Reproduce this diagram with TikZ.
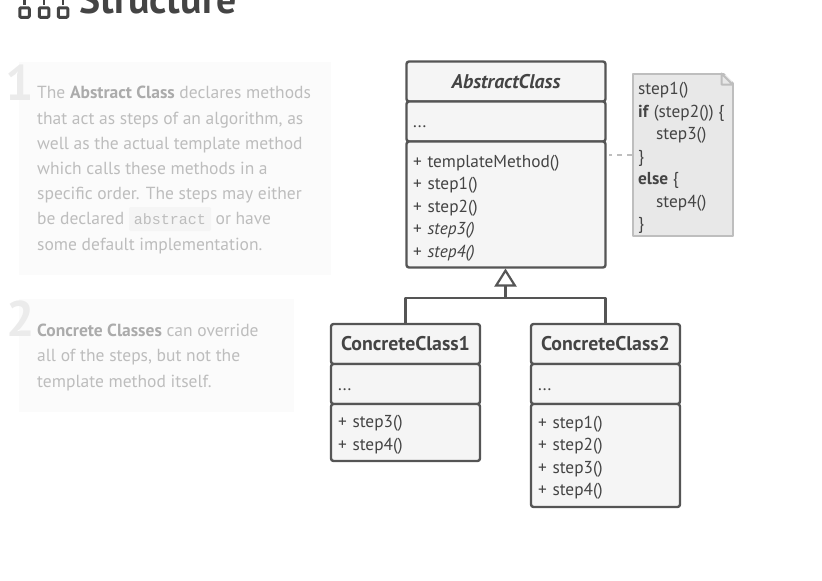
\documentclass[tikz,border=0pt]{standalone}
\usepackage{fontspec}
\setmainfont{PT Sans}
\setmonofont{Liberation Mono}
\usetikzlibrary{arrows.meta}
\definecolor{strokegray}{HTML}{555555}
\definecolor{boxgray}{HTML}{F5F5F5}
\definecolor{notegray}{HTML}{E8E8E8}
\definecolor{noteedge}{HTML}{BEBEBE}
\definecolor{paneltext}{HTML}{BDBDBD}
\definecolor{panelbold}{HTML}{ABABAB}
\definecolor{panelfill}{HTML}{FBFBFB}
\definecolor{numbergray}{HTML}{EBEBEB}
\definecolor{titlegray}{HTML}{444444}
\tikzset{
	classpart/.style={draw=strokegray, fill=boxgray, line width=2.4pt, rounded corners=2.5pt, inner sep=0pt, outer sep=0pt, text=titlegray},
	classtitle/.style={classpart, font=\fontsize{19.8}{22}\selectfont\bfseries},
	classlist/.style={classpart, font=\fontsize{17.3}{22.5}\selectfont, align=left, text width=186pt},
	paneltextstyle/.style={anchor=north west, inner sep=0pt, text=paneltext, align=left, font=\fontsize{17.5}{25.2}\selectfont},
	panelnumber/.style={anchor=base west, inner sep=0pt, text=numbergray, font=\fontsize{50}{50}\selectfont\bfseries},
	iconsquare/.style={draw=titlegray, line width=3pt, rounded corners=1pt, minimum size=9.5pt, inner sep=0pt}
}
\newcommand{\panelb}[1]{\textcolor{panelbold}{\textbf{#1}}}
\begin{document}
\begin{tikzpicture}[x=1pt, y=-1pt, line join=round, >=stealth]
	\useasboundingbox (0,0) rectangle (822,581);
	\clip (0,0) rectangle (822,581);
	% heading
	\foreach \ix/\name in {24.5/icona, 44/iconb, 63/iconc}{
		\node[iconsquare] (\name) at (\ix,12.5) {};
		\draw[titlegray, line width=2.6pt] (\ix,4.5) -- (\ix,0);
	}
	\node[anchor=base west, inner sep=0pt, text=titlegray, font=\fontsize{39.8}{40}\selectfont\bfseries] (heading) at (79,13) {Structure};
	% left panels
	\fill[panelfill] (19,62) rectangle (331,275);
	\fill[panelfill] (19,299) rectangle (294,412);
	\node[panelnumber] (numone) at (5.5,100) {1};
	\node[panelnumber] (numtwo) at (6,336) {2};
	\fill[boxgray, rounded corners=2pt] (129,207) rectangle (211,231);
	\node[paneltextstyle] (textone) at (37,86.2) {The \panelb{Abstract Class} declares methods\\that act as steps of an algorithm, as\\well as the actual template method\\which calls these methods in a\\specific order. The steps may either\\be declared \hspace{5pt}{\fontsize{15}{25.2}\ttfamily abstract}\hspace{5pt} or have\\some default implementation.};
	\node[paneltextstyle] (texttwo) at (37,324) {\panelb{Concrete Classes} can override\\all of the steps, but not the\\template method itself.};
	% abstract class
	\node[classtitle, minimum width=199pt, minimum height=40pt] (abshead) at (506,81.5) {\itshape AbstractClass};
	\node[classlist, minimum width=199pt, minimum height=40pt] (absfields) at (506,121.5) {\raisebox{-13pt}{...}};
	\node[classlist, minimum width=199pt, minimum height=126pt] (absmethods) at (506,204.5) {\rule{0pt}{19pt}+ templateMethod()\\+ step1()\\+ step2()\\+ \textit{step3()}\\+ \textit{step4()}};
	% note
	\node[anchor=north west, draw=noteedge, fill=notegray, line width=2pt, minimum width=100pt, minimum height=162pt, inner sep=0pt] (codenote) at (631.5,72.5) {};
	\fill[white] (codenote.north east) ++(-11,-1) -- ++(12.5,0) -- ++(0,12.5) -- cycle;
	\draw[noteedge, line width=2pt] (codenote.north east) ++(-12,1) -- ++(11,11) -- ++(-11,0) -- cycle;
	\node[anchor=north west, inner sep=0pt, text=titlegray, align=left, font=\fontsize{17.3}{22.5}\selectfont] (codetext) at (638,82) {step1()\\\textbf{if} (step2()) \{\\\hspace*{18pt}step3()\\\}\\\textbf{else} \{\\\hspace*{18pt}step4()\\\}};
	\coordinate (notelink) at (632,155);
	\draw[noteedge, line width=1.6pt, dash pattern=on 5pt off 5pt, shorten >=3pt] (notelink) -- (notelink -| absmethods.east);
	% concrete classes
	\foreach \name/\label/\cx in {one/ConcreteClass1/405.5, two/ConcreteClass2/605.5}{
		\node[classtitle, minimum width=149pt, minimum height=40pt] (\name head) at (\cx,344) {\label};
		\node[classlist, text width=135pt, minimum width=149pt, minimum height=40pt] (\name fields) at (\cx,384) {\raisebox{-13pt}{...}};
	}
	\node[classlist, text width=135pt, minimum width=149pt, minimum height=57pt] (onemethods) at (405.5,432.5) {\rule{0pt}{17pt}+ step3()\\+ step4()};
	\node[classlist, text width=135pt, minimum width=149pt, minimum height=103pt] (twomethods) at (605.5,455.5) {\rule{0pt}{17pt}+ step1()\\+ step2()\\+ step3()\\+ step4()};
	% inheritance
	\coordinate (busjoint) at (505.5,298);
	\draw[strokegray, line width=2.2pt] (onehead.north) |- (busjoint) -| (twohead.north);
	\draw[strokegray, line width=2.2pt, -{Triangle[open, length=18pt, width=22pt, fill=white]}, shorten >=1pt] (busjoint) -- (busjoint |- absmethods.south);
\end{tikzpicture}
\end{document}
